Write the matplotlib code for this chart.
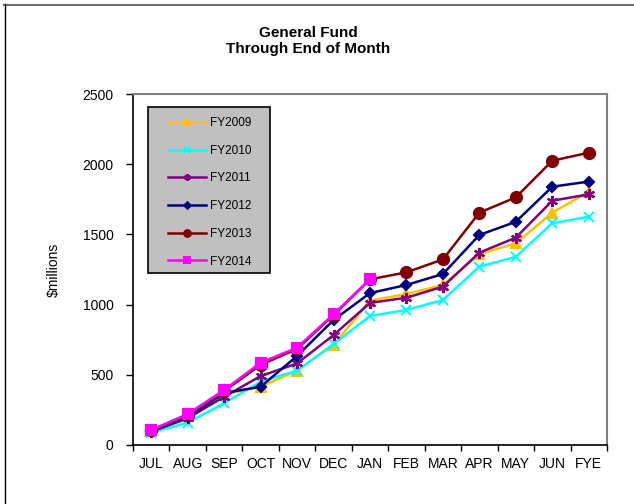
import numpy as np
import matplotlib
matplotlib.use("Agg")
import matplotlib.pyplot as plt
from matplotlib.lines import Line2D
from matplotlib.patches import Rectangle

plt.rcParams["font.family"] = ["Liberation Sans", "DejaVu Sans"]

months = ["JUL", "AUG", "SEP", "OCT", "NOV", "DEC", "JAN",
          "FEB", "MAR", "APR", "MAY", "JUN", "FYE"]

fy2009 = [98, 205, 360, 415, 530, 712, 1028, 1075, 1140, 1360, 1436, 1655, 1805]
fy2010 = [88, 159, 297, 451, 530, 719, 919, 962, 1033, 1270, 1341, 1579, 1626]
fy2011 = [95, 190, 344, 491, 581, 783, 1012, 1049, 1128, 1370, 1477, 1740, 1785]
fy2012 = [100, 200, 370, 415, 634, 890, 1082, 1140, 1218, 1496, 1590, 1840, 1876]
fy2013 = [105, 215, 385, 570, 685, 925, 1180, 1230, 1322, 1655, 1764, 2025, 2082]
fy2014 = [107, 221, 392, 586, 693, 931, 1180]

series = [
    ("FY2009", fy2009, "#FFC000", "^", 7),
    ("FY2010", fy2010, "#00FFFF", "x", 7),
    ("FY2011", fy2011, "#800080", (6, 2, 0), 8),
    ("FY2012", fy2012, "#000080", "D", 5.5),
    ("FY2013", fy2013, "#800000", "o", 8),
    ("FY2014", fy2014, "#FF00FF", "s", 7.5),
]

W, H = 634, 504
fig = plt.figure(figsize=(W / 100, H / 100), dpi=100)
ax = fig.add_axes([133 / W, 1 - 445 / H, 474 / W, 351 / H])

x = np.arange(len(months))
for name, vals, color, marker, ms in series:
    ax.plot(x[:len(vals)], vals, color=color, marker=marker, markersize=ms,
            markeredgewidth=1.5, linewidth=1.8, label=name)

ax.set_xlim(-0.5, len(months) - 0.5)
ax.set_ylim(0, 2500)
ax.set_yticks(range(0, 2501, 500))
ax.set_xticks(x)
ax.set_xticklabels(months)
ax.set_xticks(np.arange(-0.5, len(months)), minor=True)
ax.tick_params(axis="x", which="major", length=0, pad=9, labelsize=10)
ax.tick_params(axis="x", which="minor", length=4, width=1, direction="out")
ax.tick_params(axis="y", length=5, width=1, pad=9, labelsize=10)

for side in ["top", "right"]:
    ax.spines[side].set_color("#808080")
    ax.spines[side].set_linewidth(1.5)
for side in ["left", "bottom"]:
    ax.spines[side].set_color("black")
    ax.spines[side].set_linewidth(1.2)

ax.set_ylabel("$millions", fontsize=10, labelpad=15.5)

fig.text(308 / W, 1 - 33 / H, "General Fund", ha="center", va="center",
         fontsize=11, fontweight="bold")
fig.text(308 / W, 1 - 49.5 / H, "Through End of Month", ha="center", va="center",
         fontsize=11, fontweight="bold")

# grey legend panel, drawn separately so its size matches the original
ax.add_patch(Rectangle((148 / W, 1 - 273 / H), 122 / W, 166 / H,
                       transform=fig.transFigure, facecolor="#c0c0c0",
                       edgecolor="black", linewidth=1.2, zorder=4,
                       clip_on=False))
leg = ax.legend(loc="upper left", bbox_to_anchor=(168 / W, 1 - 117 / H),
                bbox_transform=fig.transFigure, fontsize=8.5, frameon=False,
                markerscale=0.6, handlelength=3.2, handletextpad=0.35,
                labelspacing=1.33, borderpad=0, borderaxespad=0)
leg.set_zorder(5)

# outer chart frame
fig.add_artist(Line2D([4 / W, 1], [1 - 4.5 / H, 1 - 4.5 / H],
                      transform=fig.transFigure, color="#707070", lw=1.5))
fig.add_artist(Line2D([4.5 / W, 4.5 / W], [0, 1 - 4 / H],
                      transform=fig.transFigure, color="black", lw=1))

fig.savefig("out.png", dpi=100)
